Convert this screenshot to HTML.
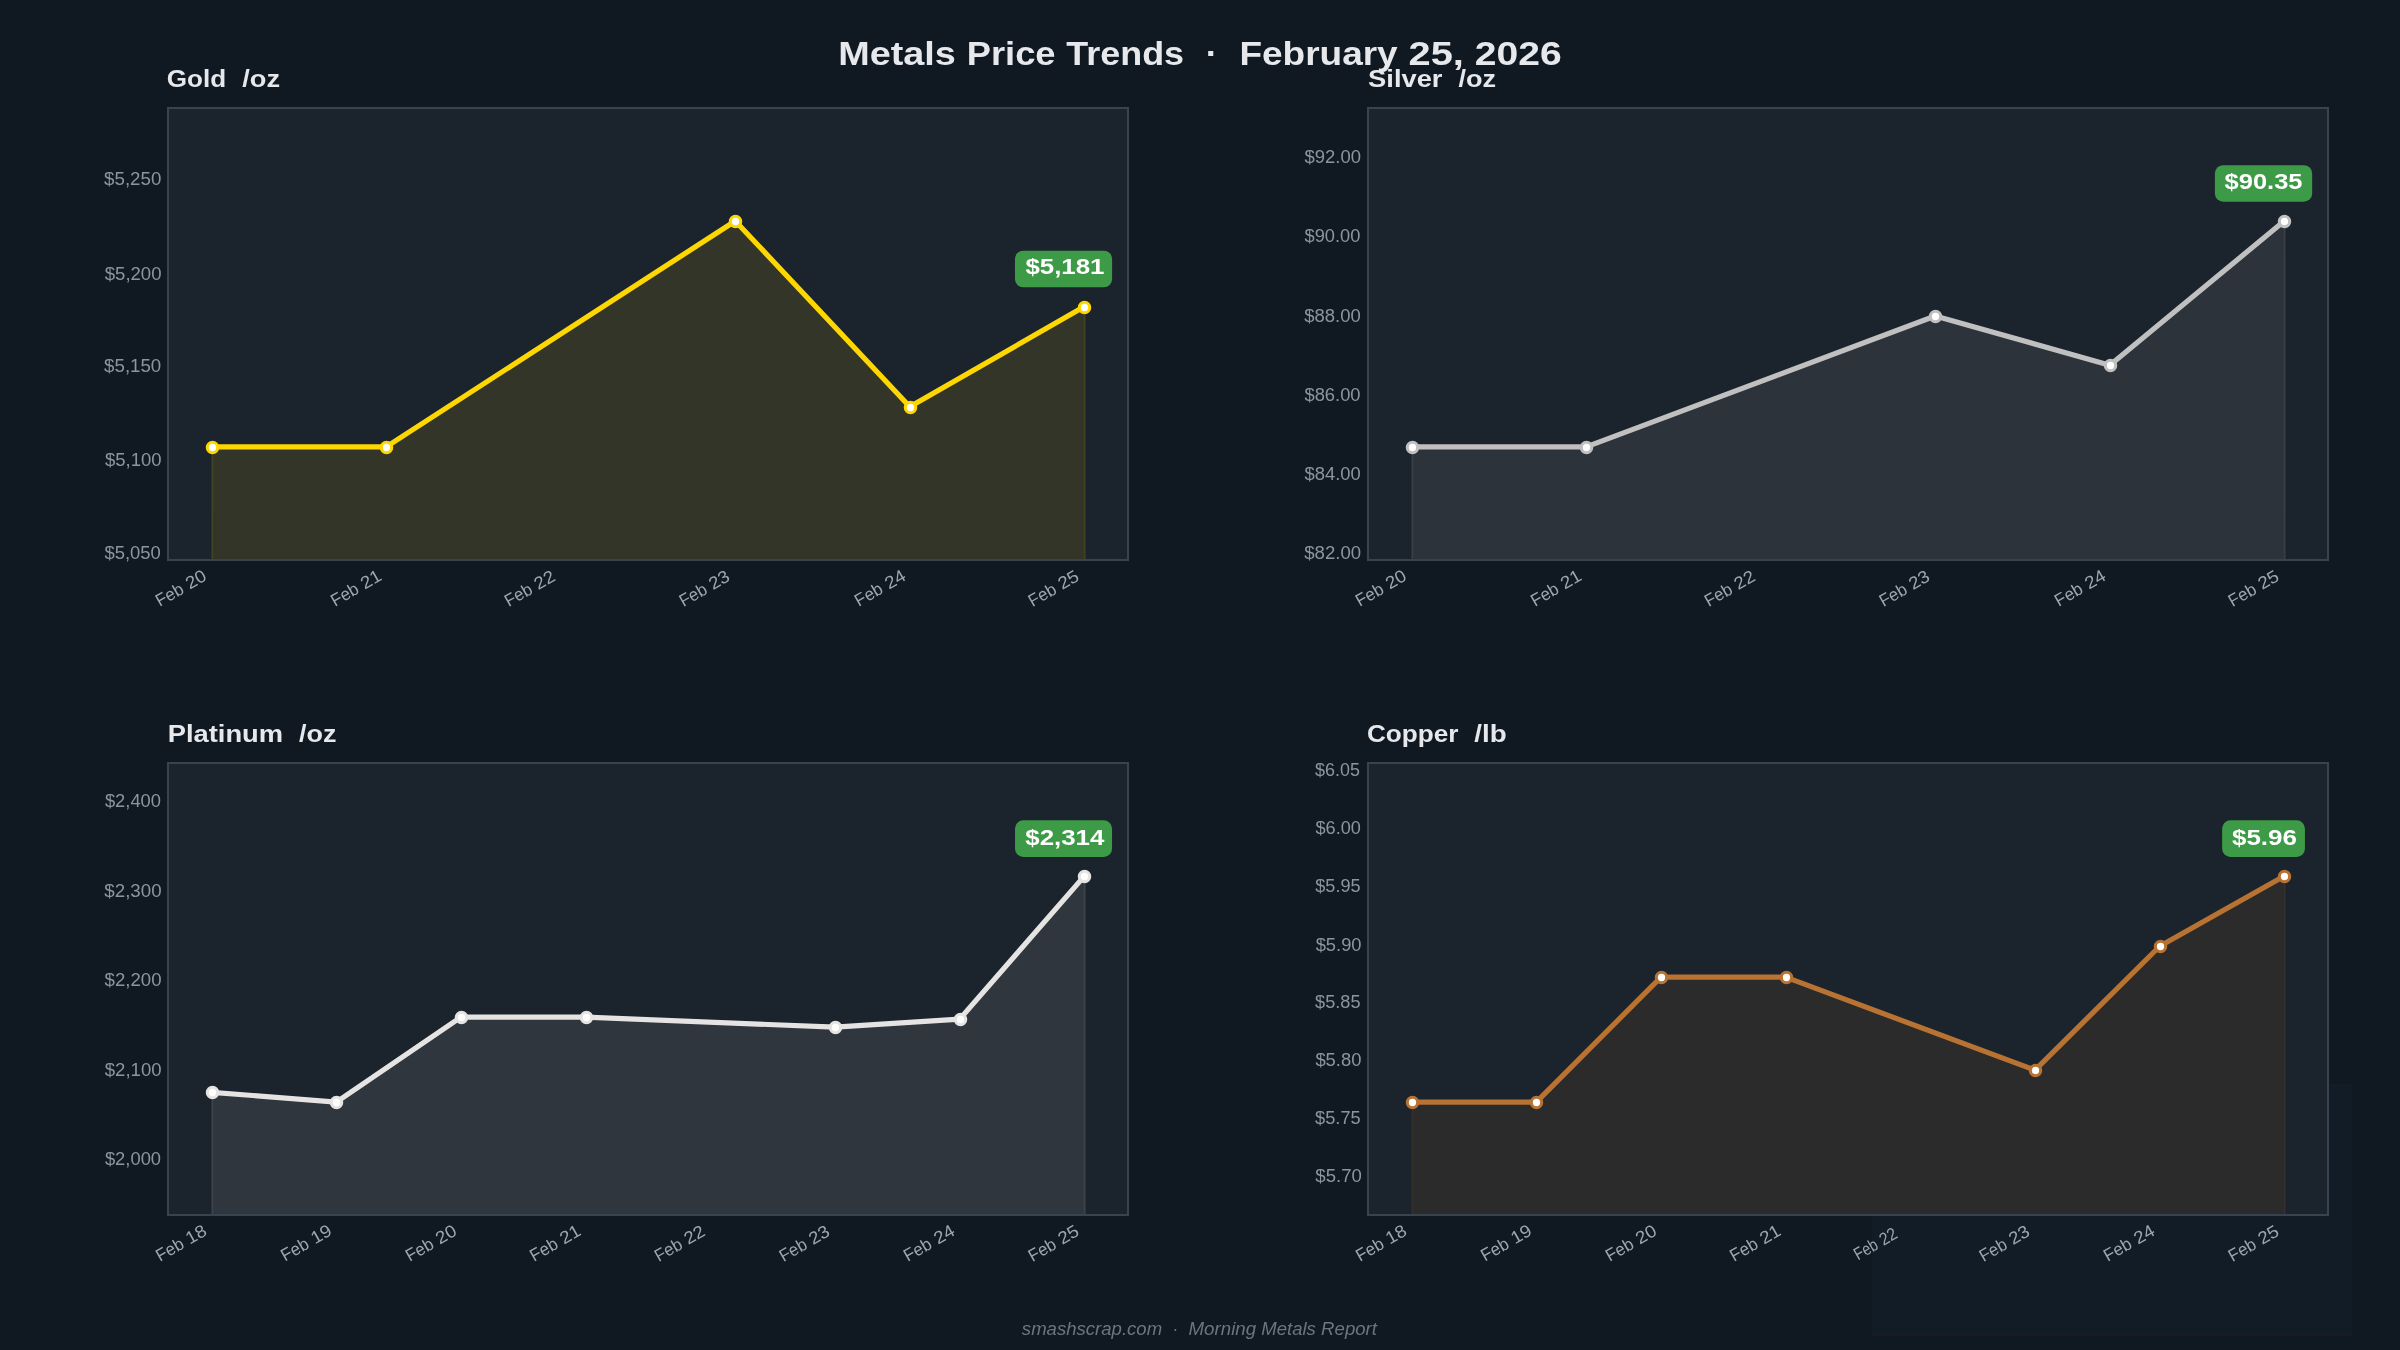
<!DOCTYPE html>
<html><head><meta charset="utf-8"><title>Metals Price Trends</title>
<style>html,body{margin:0;padding:0;background:#101922;}svg{display:block;will-change:transform;}text{font-family:"Liberation Sans",sans-serif;}</style></head><body>
<svg width="2400" height="1350" viewBox="0 0 2400 1350">
<rect x="0" y="0" width="2400" height="1350" fill="#101922"/>
<rect x="1872" y="1084" width="480" height="252" fill="#111c27"/>
<rect x="1872" y="1334" width="480" height="2" fill="#1a1a26"/>
<g>
<rect x="168" y="108" width="960" height="451.84" fill="#1b232c"/>
<clipPath id="c0"><rect x="168" y="108" width="960" height="451.84"/></clipPath>
<path d="M212.14 560.34 L212.14 447.38 L386.68 447.38 L735.77 221.46 L910.32 407.29 L1084.86 307.01 L1084.86 560.34 L1084.86 560.34 L910.32 560.34 L735.77 560.34 L386.68 560.34 L212.14 560.34 L212.14 560.34 Z" fill="#FFD700" fill-opacity="0.1" stroke="#FFD700" stroke-opacity="0.1" stroke-width="2.08" clip-path="url(#c0)"/>
<rect x="168" y="108" width="960" height="452" fill="none" stroke="#37434f" stroke-width="2.08"/>
<path d="M211.64 446.88 L386.18 446.88 L735.27 220.96 L909.82 406.79 L1084.36 306.51" fill="none" stroke="#FFD700" stroke-width="5.21" stroke-linejoin="round" stroke-linecap="square"/>
<circle cx="212.5" cy="447.5" r="5.21" fill="#fff" stroke="#FFD700" stroke-width="3.12"/>
<circle cx="386.5" cy="447.5" r="5.21" fill="#fff" stroke="#FFD700" stroke-width="3.12"/>
<circle cx="735.5" cy="221.5" r="5.21" fill="#fff" stroke="#FFD700" stroke-width="3.12"/>
<circle cx="910.5" cy="407.5" r="5.21" fill="#fff" stroke="#FFD700" stroke-width="3.12"/>
<circle cx="1084.5" cy="307.5" r="5.21" fill="#fff" stroke="#FFD700" stroke-width="3.12"/>
<rect x="1014.95" y="250.68" width="97.17" height="36.67" rx="8.33" fill="#3d9a47"/>
</g>
<g>
<rect x="1368" y="108" width="960" height="451.84" fill="#1b232c"/>
<clipPath id="c1"><rect x="1368" y="108" width="960" height="451.84"/></clipPath>
<path d="M1412.14 560.34 L1412.14 447.38 L1586.68 447.38 L1935.77 316.54 L2110.32 365.64 L2284.86 221.46 L2284.86 560.34 L2284.86 560.34 L2110.32 560.34 L1935.77 560.34 L1586.68 560.34 L1412.14 560.34 L1412.14 560.34 Z" fill="#C0C0C0" fill-opacity="0.1" stroke="#C0C0C0" stroke-opacity="0.1" stroke-width="2.08" clip-path="url(#c1)"/>
<rect x="1368" y="108" width="960" height="452" fill="none" stroke="#37434f" stroke-width="2.08"/>
<path d="M1411.64 446.88 L1586.18 446.88 L1935.27 316.04 L2109.82 365.14 L2284.36 220.96" fill="none" stroke="#C0C0C0" stroke-width="5.21" stroke-linejoin="round" stroke-linecap="square"/>
<circle cx="1412.5" cy="447.5" r="5.21" fill="#fff" stroke="#C0C0C0" stroke-width="3.12"/>
<circle cx="1586.5" cy="447.5" r="5.21" fill="#fff" stroke="#C0C0C0" stroke-width="3.12"/>
<circle cx="1935.5" cy="316.5" r="5.21" fill="#fff" stroke="#C0C0C0" stroke-width="3.12"/>
<circle cx="2110.5" cy="365.5" r="5.21" fill="#fff" stroke="#C0C0C0" stroke-width="3.12"/>
<circle cx="2284.5" cy="221.5" r="5.21" fill="#fff" stroke="#C0C0C0" stroke-width="3.12"/>
<rect x="2214.88" y="165.13" width="97.29" height="36.67" rx="8.33" fill="#3d9a47"/>
</g>
<g>
<rect x="168" y="763.16" width="960" height="451.84" fill="#1b232c"/>
<clipPath id="c2"><rect x="168" y="763.16" width="960" height="451.84"/></clipPath>
<path d="M212.14 1215.5 L212.14 1092.77 L336.81 1102.54 L461.49 1017.64 L586.16 1017.64 L835.51 1027.68 L960.19 1019.61 L1084.86 876.62 L1084.86 1215.5 L1084.86 1215.5 L960.19 1215.5 L835.51 1215.5 L586.16 1215.5 L461.49 1215.5 L336.81 1215.5 L212.14 1215.5 L212.14 1215.5 Z" fill="#E5E4E2" fill-opacity="0.1" stroke="#E5E4E2" stroke-opacity="0.1" stroke-width="2.08" clip-path="url(#c2)"/>
<rect x="168" y="763" width="960" height="452" fill="none" stroke="#37434f" stroke-width="2.08"/>
<path d="M211.64 1092.27 L336.31 1102.04 L460.99 1017.14 L585.66 1017.14 L835.01 1027.18 L959.69 1019.11 L1084.36 876.12" fill="none" stroke="#E5E4E2" stroke-width="5.21" stroke-linejoin="round" stroke-linecap="square"/>
<circle cx="212.5" cy="1092.5" r="5.21" fill="#fff" stroke="#E5E4E2" stroke-width="3.12"/>
<circle cx="336.5" cy="1102.5" r="5.21" fill="#fff" stroke="#E5E4E2" stroke-width="3.12"/>
<circle cx="461.5" cy="1017.5" r="5.21" fill="#fff" stroke="#E5E4E2" stroke-width="3.12"/>
<circle cx="586.5" cy="1017.5" r="5.21" fill="#fff" stroke="#E5E4E2" stroke-width="3.12"/>
<circle cx="835.5" cy="1027.5" r="5.21" fill="#fff" stroke="#E5E4E2" stroke-width="3.12"/>
<circle cx="960.5" cy="1019.5" r="5.21" fill="#fff" stroke="#E5E4E2" stroke-width="3.12"/>
<circle cx="1084.5" cy="876.5" r="5.21" fill="#fff" stroke="#E5E4E2" stroke-width="3.12"/>
<rect x="1015.01" y="820.29" width="97.04" height="36.67" rx="8.33" fill="#3d9a47"/>
</g>
<g>
<rect x="1368" y="763.16" width="960" height="451.84" fill="#1b232c"/>
<clipPath id="c3"><rect x="1368" y="763.16" width="960" height="451.84"/></clipPath>
<path d="M1412.14 1215.5 L1412.14 1102.54 L1536.81 1102.54 L1661.49 977.66 L1786.16 977.66 L2035.51 1070.71 L2160.19 946.76 L2284.86 876.62 L2284.86 1215.5 L2284.86 1215.5 L2160.19 1215.5 L2035.51 1215.5 L1786.16 1215.5 L1661.49 1215.5 L1536.81 1215.5 L1412.14 1215.5 L1412.14 1215.5 Z" fill="#B87333" fill-opacity="0.1" stroke="#B87333" stroke-opacity="0.1" stroke-width="2.08" clip-path="url(#c3)"/>
<rect x="1368" y="763" width="960" height="452" fill="none" stroke="#37434f" stroke-width="2.08"/>
<path d="M1411.64 1102.04 L1536.31 1102.04 L1660.99 977.16 L1785.66 977.16 L2035.01 1070.21 L2159.69 946.26 L2284.36 876.12" fill="none" stroke="#B87333" stroke-width="5.21" stroke-linejoin="round" stroke-linecap="square"/>
<circle cx="1412.5" cy="1102.5" r="5.21" fill="#fff" stroke="#B87333" stroke-width="3.12"/>
<circle cx="1536.5" cy="1102.5" r="5.21" fill="#fff" stroke="#B87333" stroke-width="3.12"/>
<circle cx="1661.5" cy="977.5" r="5.21" fill="#fff" stroke="#B87333" stroke-width="3.12"/>
<circle cx="1786.5" cy="977.5" r="5.21" fill="#fff" stroke="#B87333" stroke-width="3.12"/>
<circle cx="2035.5" cy="1070.5" r="5.21" fill="#fff" stroke="#B87333" stroke-width="3.12"/>
<circle cx="2160.5" cy="946.5" r="5.21" fill="#fff" stroke="#B87333" stroke-width="3.12"/>
<circle cx="2284.5" cy="876.5" r="5.21" fill="#fff" stroke="#B87333" stroke-width="3.12"/>
<rect x="2222.13" y="820.29" width="82.79" height="36.67" rx="8.33" fill="#3d9a47"/>
</g>
<g transform="translate(159.75 607.08) rotate(-30)" fill="#9ba6b2" style="font-size:17.5px;">
<text x="0" y="0" textLength="29.25" lengthAdjust="spacingAndGlyphs">Feb</text>
<text x="34.51" y="0" textLength="21.02" lengthAdjust="spacingAndGlyphs">20</text>
</g>
<g transform="translate(334.92 607) rotate(-30)" fill="#9ba6b2" style="font-size:17.5px;">
<text x="0" y="0" textLength="29.24" lengthAdjust="spacingAndGlyphs">Feb</text>
<text x="34.48" y="0" textLength="21.01" lengthAdjust="spacingAndGlyphs">21</text>
</g>
<g transform="translate(508.64 607.28) rotate(-30)" fill="#9ba6b2" style="font-size:17.5px;">
<text x="0" y="0" textLength="29.09" lengthAdjust="spacingAndGlyphs">Feb</text>
<text x="34.31" y="0" textLength="20.91" lengthAdjust="spacingAndGlyphs">22</text>
</g>
<g transform="translate(683.45 607.28) rotate(-30)" fill="#9ba6b2" style="font-size:17.5px;">
<text x="0" y="0" textLength="29.01" lengthAdjust="spacingAndGlyphs">Feb</text>
<text x="34.22" y="0" textLength="20.85" lengthAdjust="spacingAndGlyphs">23</text>
</g>
<g transform="translate(858.87 607.06) rotate(-30)" fill="#9ba6b2" style="font-size:17.5px;">
<text x="0" y="0" textLength="29.4" lengthAdjust="spacingAndGlyphs">Feb</text>
<text x="34.68" y="0" textLength="21.13" lengthAdjust="spacingAndGlyphs">24</text>
</g>
<g transform="translate(1032.6 607.24) rotate(-30)" fill="#9ba6b2" style="font-size:17.5px;">
<text x="0" y="0" textLength="29.06" lengthAdjust="spacingAndGlyphs">Feb</text>
<text x="34.28" y="0" textLength="20.89" lengthAdjust="spacingAndGlyphs">25</text>
</g>
<g fill="#9ba6b2" fill-opacity="0.88" style="font-size:17.5px;">
<text x="104.44" y="559.18" textLength="56.41" lengthAdjust="spacingAndGlyphs">$5,050</text>
</g>
<g fill="#9ba6b2" fill-opacity="0.88" style="font-size:17.5px;">
<text x="104.91" y="466.34" textLength="56.62" lengthAdjust="spacingAndGlyphs">$5,100</text>
</g>
<g fill="#9ba6b2" fill-opacity="0.88" style="font-size:17.5px;">
<text x="104.13" y="371.88" textLength="57.13" lengthAdjust="spacingAndGlyphs">$5,150</text>
</g>
<g fill="#9ba6b2" fill-opacity="0.88" style="font-size:17.5px;">
<text x="104.73" y="279.52" textLength="56.81" lengthAdjust="spacingAndGlyphs">$5,200</text>
</g>
<g fill="#9ba6b2" fill-opacity="0.88" style="font-size:17.5px;">
<text x="104.14" y="185.05" textLength="57.21" lengthAdjust="spacingAndGlyphs">$5,250</text>
</g>
<g fill="#ffffff" style="font-size:21.88px;font-weight:700;">
<text x="1025.44" y="274.31" textLength="79.01" lengthAdjust="spacingAndGlyphs">$5,181</text>
</g>
<g fill="#e6e8eb" style="font-size:24.06px;font-weight:700;">
<text x="166.81" y="87.23" textLength="59.39" lengthAdjust="spacingAndGlyphs">Gold</text>
<text x="242.31" y="87.23" textLength="37.82" lengthAdjust="spacingAndGlyphs">/oz</text>
</g>
<g transform="translate(1359.75 607.08) rotate(-30)" fill="#9ba6b2" style="font-size:17.5px;">
<text x="0" y="0" textLength="29.25" lengthAdjust="spacingAndGlyphs">Feb</text>
<text x="34.51" y="0" textLength="21.02" lengthAdjust="spacingAndGlyphs">20</text>
</g>
<g transform="translate(1534.92 607) rotate(-30)" fill="#9ba6b2" style="font-size:17.5px;">
<text x="0" y="0" textLength="29.24" lengthAdjust="spacingAndGlyphs">Feb</text>
<text x="34.48" y="0" textLength="21.01" lengthAdjust="spacingAndGlyphs">21</text>
</g>
<g transform="translate(1708.64 607.28) rotate(-30)" fill="#9ba6b2" style="font-size:17.5px;">
<text x="0" y="0" textLength="29.09" lengthAdjust="spacingAndGlyphs">Feb</text>
<text x="34.31" y="0" textLength="20.91" lengthAdjust="spacingAndGlyphs">22</text>
</g>
<g transform="translate(1883.45 607.28) rotate(-30)" fill="#9ba6b2" style="font-size:17.5px;">
<text x="0" y="0" textLength="29.01" lengthAdjust="spacingAndGlyphs">Feb</text>
<text x="34.22" y="0" textLength="20.85" lengthAdjust="spacingAndGlyphs">23</text>
</g>
<g transform="translate(2058.87 607.06) rotate(-30)" fill="#9ba6b2" style="font-size:17.5px;">
<text x="0" y="0" textLength="29.4" lengthAdjust="spacingAndGlyphs">Feb</text>
<text x="34.68" y="0" textLength="21.13" lengthAdjust="spacingAndGlyphs">24</text>
</g>
<g transform="translate(2232.6 607.24) rotate(-30)" fill="#9ba6b2" style="font-size:17.5px;">
<text x="0" y="0" textLength="29.06" lengthAdjust="spacingAndGlyphs">Feb</text>
<text x="34.28" y="0" textLength="20.89" lengthAdjust="spacingAndGlyphs">25</text>
</g>
<g fill="#9ba6b2" fill-opacity="0.88" style="font-size:17.5px;">
<text x="1304.25" y="559.15" textLength="56.86" lengthAdjust="spacingAndGlyphs">$82.00</text>
</g>
<g fill="#9ba6b2" fill-opacity="0.88" style="font-size:17.5px;">
<text x="1304.51" y="479.91" textLength="56.18" lengthAdjust="spacingAndGlyphs">$84.00</text>
</g>
<g fill="#9ba6b2" fill-opacity="0.88" style="font-size:17.5px;">
<text x="1304.49" y="401.44" textLength="56.06" lengthAdjust="spacingAndGlyphs">$86.00</text>
</g>
<g fill="#9ba6b2" fill-opacity="0.88" style="font-size:17.5px;">
<text x="1304.27" y="322.32" textLength="56.47" lengthAdjust="spacingAndGlyphs">$88.00</text>
</g>
<g fill="#9ba6b2" fill-opacity="0.88" style="font-size:17.5px;">
<text x="1304.52" y="242.17" textLength="55.87" lengthAdjust="spacingAndGlyphs">$90.00</text>
</g>
<g fill="#9ba6b2" fill-opacity="0.88" style="font-size:17.5px;">
<text x="1304.45" y="162.97" textLength="56.53" lengthAdjust="spacingAndGlyphs">$92.00</text>
</g>
<g fill="#ffffff" style="font-size:21.88px;font-weight:700;">
<text x="2224.56" y="188.8" textLength="77.98" lengthAdjust="spacingAndGlyphs">$90.35</text>
</g>
<g fill="#e6e8eb" style="font-size:24.06px;font-weight:700;">
<text x="1368.14" y="87.01" textLength="74.34" lengthAdjust="spacingAndGlyphs">Silver</text>
<text x="1458.51" y="87.01" textLength="37.62" lengthAdjust="spacingAndGlyphs">/oz</text>
</g>
<g transform="translate(159.97 1261.91) rotate(-30)" fill="#9ba6b2" style="font-size:17.5px;">
<text x="0" y="0" textLength="29.27" lengthAdjust="spacingAndGlyphs">Feb</text>
<text x="34.52" y="0" textLength="21.03" lengthAdjust="spacingAndGlyphs">18</text>
</g>
<g transform="translate(285.04 1261.83) rotate(-30)" fill="#9ba6b2" style="font-size:17.5px;">
<text x="0" y="0" textLength="29.22" lengthAdjust="spacingAndGlyphs">Feb</text>
<text x="34.46" y="0" textLength="21" lengthAdjust="spacingAndGlyphs">19</text>
</g>
<g transform="translate(409.86 1262.1) rotate(-30)" fill="#9ba6b2" style="font-size:17.5px;">
<text x="0" y="0" textLength="29.32" lengthAdjust="spacingAndGlyphs">Feb</text>
<text x="34.58" y="0" textLength="21.07" lengthAdjust="spacingAndGlyphs">20</text>
</g>
<g transform="translate(533.93 1262.03) rotate(-30)" fill="#9ba6b2" style="font-size:17.5px;">
<text x="0" y="0" textLength="29.35" lengthAdjust="spacingAndGlyphs">Feb</text>
<text x="34.62" y="0" textLength="21.1" lengthAdjust="spacingAndGlyphs">21</text>
</g>
<g transform="translate(658.63 1262.24) rotate(-30)" fill="#9ba6b2" style="font-size:17.5px;">
<text x="0" y="0" textLength="29.05" lengthAdjust="spacingAndGlyphs">Feb</text>
<text x="34.26" y="0" textLength="20.88" lengthAdjust="spacingAndGlyphs">22</text>
</g>
<g transform="translate(783.38 1262.35) rotate(-30)" fill="#9ba6b2" style="font-size:17.5px;">
<text x="0" y="0" textLength="29" lengthAdjust="spacingAndGlyphs">Feb</text>
<text x="34.2" y="0" textLength="20.84" lengthAdjust="spacingAndGlyphs">23</text>
</g>
<g transform="translate(907.84 1262.1) rotate(-30)" fill="#9ba6b2" style="font-size:17.5px;">
<text x="0" y="0" textLength="29.42" lengthAdjust="spacingAndGlyphs">Feb</text>
<text x="34.7" y="0" textLength="21.14" lengthAdjust="spacingAndGlyphs">24</text>
</g>
<g transform="translate(1032.55 1262.24) rotate(-30)" fill="#9ba6b2" style="font-size:17.5px;">
<text x="0" y="0" textLength="29.08" lengthAdjust="spacingAndGlyphs">Feb</text>
<text x="34.3" y="0" textLength="20.9" lengthAdjust="spacingAndGlyphs">25</text>
</g>
<g fill="#9ba6b2" fill-opacity="0.88" style="font-size:17.5px;">
<text x="104.92" y="1165.47" textLength="56.14" lengthAdjust="spacingAndGlyphs">$2,000</text>
</g>
<g fill="#9ba6b2" fill-opacity="0.88" style="font-size:17.5px;">
<text x="104.75" y="1076.4" textLength="56.78" lengthAdjust="spacingAndGlyphs">$2,100</text>
</g>
<g fill="#9ba6b2" fill-opacity="0.88" style="font-size:17.5px;">
<text x="104.59" y="986.21" textLength="56.92" lengthAdjust="spacingAndGlyphs">$2,200</text>
</g>
<g fill="#9ba6b2" fill-opacity="0.88" style="font-size:17.5px;">
<text x="104.36" y="897.18" textLength="57.23" lengthAdjust="spacingAndGlyphs">$2,300</text>
</g>
<g fill="#9ba6b2" fill-opacity="0.88" style="font-size:17.5px;">
<text x="104.92" y="806.86" textLength="56.08" lengthAdjust="spacingAndGlyphs">$2,400</text>
</g>
<g fill="#ffffff" style="font-size:21.88px;font-weight:700;">
<text x="1025.3" y="844.57" textLength="79.08" lengthAdjust="spacingAndGlyphs">$2,314</text>
</g>
<g fill="#e6e8eb" style="font-size:24.06px;font-weight:700;">
<text x="167.66" y="741.83" textLength="115.43" lengthAdjust="spacingAndGlyphs">Platinum</text>
<text x="299.04" y="741.83" textLength="37.45" lengthAdjust="spacingAndGlyphs">/oz</text>
</g>
<g transform="translate(1359.97 1261.91) rotate(-30)" fill="#9ba6b2" style="font-size:17.5px;">
<text x="0" y="0" textLength="29.27" lengthAdjust="spacingAndGlyphs">Feb</text>
<text x="34.52" y="0" textLength="21.03" lengthAdjust="spacingAndGlyphs">18</text>
</g>
<g transform="translate(1485.04 1261.83) rotate(-30)" fill="#9ba6b2" style="font-size:17.5px;">
<text x="0" y="0" textLength="29.22" lengthAdjust="spacingAndGlyphs">Feb</text>
<text x="34.46" y="0" textLength="21" lengthAdjust="spacingAndGlyphs">19</text>
</g>
<g transform="translate(1609.86 1262.1) rotate(-30)" fill="#9ba6b2" style="font-size:17.5px;">
<text x="0" y="0" textLength="29.32" lengthAdjust="spacingAndGlyphs">Feb</text>
<text x="34.58" y="0" textLength="21.07" lengthAdjust="spacingAndGlyphs">20</text>
</g>
<g transform="translate(1733.93 1262.03) rotate(-30)" fill="#9ba6b2" style="font-size:17.5px;">
<text x="0" y="0" textLength="29.35" lengthAdjust="spacingAndGlyphs">Feb</text>
<text x="34.62" y="0" textLength="21.1" lengthAdjust="spacingAndGlyphs">21</text>
</g>
<g transform="translate(1858.12 1260.55) rotate(-30)" fill="#9ba6b2" style="font-size:17.5px;">
<text x="0" y="0" textLength="24.73" lengthAdjust="spacingAndGlyphs">Feb</text>
<text x="29.18" y="0" textLength="17.78" lengthAdjust="spacingAndGlyphs">22</text>
</g>
<g transform="translate(1983.38 1262.36) rotate(-30)" fill="#9ba6b2" style="font-size:17.5px;">
<text x="0" y="0" textLength="29" lengthAdjust="spacingAndGlyphs">Feb</text>
<text x="34.2" y="0" textLength="20.84" lengthAdjust="spacingAndGlyphs">23</text>
</g>
<g transform="translate(2107.83 1262.06) rotate(-30)" fill="#9ba6b2" style="font-size:17.5px;">
<text x="0" y="0" textLength="29.46" lengthAdjust="spacingAndGlyphs">Feb</text>
<text x="34.75" y="0" textLength="21.17" lengthAdjust="spacingAndGlyphs">24</text>
</g>
<g transform="translate(2232.55 1262.25) rotate(-30)" fill="#9ba6b2" style="font-size:17.5px;">
<text x="0" y="0" textLength="29.08" lengthAdjust="spacingAndGlyphs">Feb</text>
<text x="34.3" y="0" textLength="20.9" lengthAdjust="spacingAndGlyphs">25</text>
</g>
<g fill="#9ba6b2" fill-opacity="0.88" style="font-size:17.5px;">
<text x="1315.3" y="1181.59" textLength="46.5" lengthAdjust="spacingAndGlyphs">$5.70</text>
</g>
<g fill="#9ba6b2" fill-opacity="0.88" style="font-size:17.5px;">
<text x="1315.09" y="1124.28" textLength="45.65" lengthAdjust="spacingAndGlyphs">$5.75</text>
</g>
<g fill="#9ba6b2" fill-opacity="0.88" style="font-size:17.5px;">
<text x="1315.4" y="1066.48" textLength="46" lengthAdjust="spacingAndGlyphs">$5.80</text>
</g>
<g fill="#9ba6b2" fill-opacity="0.88" style="font-size:17.5px;">
<text x="1315.11" y="1008.43" textLength="45.43" lengthAdjust="spacingAndGlyphs">$5.85</text>
</g>
<g fill="#9ba6b2" fill-opacity="0.88" style="font-size:17.5px;">
<text x="1315.7" y="950.53" textLength="45.84" lengthAdjust="spacingAndGlyphs">$5.90</text>
</g>
<g fill="#9ba6b2" fill-opacity="0.88" style="font-size:17.5px;">
<text x="1315.27" y="892.48" textLength="45.33" lengthAdjust="spacingAndGlyphs">$5.95</text>
</g>
<g fill="#9ba6b2" fill-opacity="0.88" style="font-size:17.5px;">
<text x="1315.53" y="834.28" textLength="45.33" lengthAdjust="spacingAndGlyphs">$6.00</text>
</g>
<g fill="#9ba6b2" fill-opacity="0.88" style="font-size:17.5px;">
<text x="1315.03" y="776.24" textLength="44.83" lengthAdjust="spacingAndGlyphs">$6.05</text>
</g>
<g fill="#ffffff" style="font-size:21.88px;font-weight:700;">
<text x="2231.99" y="845.03" textLength="65.01" lengthAdjust="spacingAndGlyphs">$5.96</text>
</g>
<g fill="#e6e8eb" style="font-size:24.06px;font-weight:700;">
<text x="1366.92" y="742.46" textLength="91.53" lengthAdjust="spacingAndGlyphs">Copper</text>
<text x="1474.28" y="742.46" textLength="32.39" lengthAdjust="spacingAndGlyphs">/lb</text>
</g>
<g fill="#e6e8eb" style="font-size:32.81px;font-weight:700;">
<text x="838.25" y="64.92" textLength="117.63" lengthAdjust="spacingAndGlyphs">Metals</text>
<text x="966.76" y="64.92" textLength="88.75" lengthAdjust="spacingAndGlyphs">Price</text>
<text x="1066.39" y="64.92" textLength="117.71" lengthAdjust="spacingAndGlyphs">Trends</text>
<text x="1205.85" y="64.92" textLength="11.87" lengthAdjust="spacingAndGlyphs">·</text>
<text x="1239.48" y="64.92" textLength="158.17" lengthAdjust="spacingAndGlyphs">February</text>
<text x="1408.54" y="64.92" textLength="55.36" lengthAdjust="spacingAndGlyphs">25,</text>
<text x="1474.77" y="64.92" textLength="86.97" lengthAdjust="spacingAndGlyphs">2026</text>
</g>
<g fill="#6b7580" style="font-size:17.5px;font-style:italic;">
<text x="1021.89" y="1334.62" textLength="140.27" lengthAdjust="spacingAndGlyphs">smashscrap.com</text>
<text x="1172.72" y="1334.62" textLength="5.28" lengthAdjust="spacingAndGlyphs">·</text>
<text x="1188.56" y="1334.62" textLength="67.53" lengthAdjust="spacingAndGlyphs">Morning</text>
<text x="1261.36" y="1334.62" textLength="54.5" lengthAdjust="spacingAndGlyphs">Metals</text>
<text x="1321.14" y="1334.62" textLength="55.8" lengthAdjust="spacingAndGlyphs">Report</text>
</g>
</svg>
</body></html>
